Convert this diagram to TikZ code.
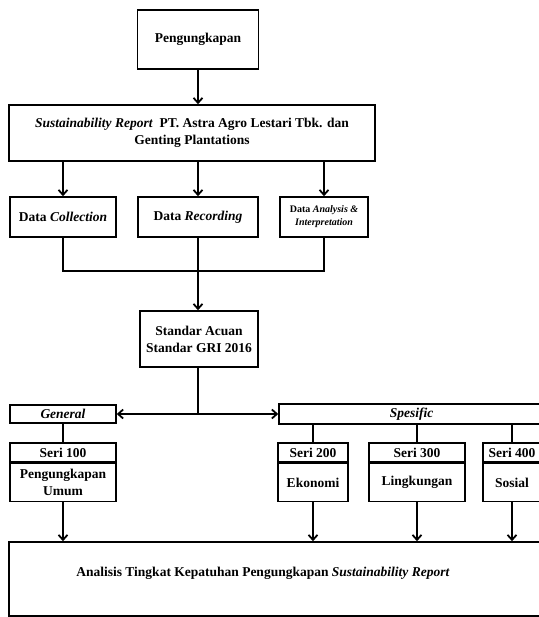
\documentclass[tikz,border=0pt]{standalone}
\usepackage{fontspec}
\setmainfont{Liberation Serif}
\usetikzlibrary{arrows.meta}

\begin{document}
\begin{tikzpicture}[x=1pt,y=-1pt,>={Straight Barb[length=5pt,width=9pt]},
	box/.style={draw,line width=1.6pt,inner sep=1pt,align=center,font=\fontsize{13.5}{17}\selectfont\bfseries},
	link/.style={line width=1.8pt},
	pics/seri/.style n args={3}{code={
			\node[box,minimum width=#1,minimum height=19pt] (-head) at (0,0) {#2};
			\node[box,minimum width=#1,minimum height=38pt,anchor=north] (-body) at (-head.south) {#3};
	}}]
	\useasboundingbox (0,0) rectangle (538,617);
	% upper part
	\node[box,minimum width=121pt,minimum height=59pt] (peng) at (198,39.5) {Pengungkapan};
	\node[box,minimum width=366pt,minimum height=56pt] (sr) at (192,133) {\textit{Sustainability Report}\ \ PT. Astra Agro Lestari Tbk. dan\\Genting Plantations};
	\node[box,minimum width=106pt,minimum height=40pt] (dc) at (63,217) {Data \textit{Collection}};
	\node[box,minimum width=120pt,minimum height=40pt] (dr) at (198,217) {Data \textit{Recording}};
	\node[box,minimum width=88pt,minimum height=40pt,font=\fontsize{10}{13}\selectfont\bfseries] (da) at (324,217) {Data \textit{Analysis \&}\\\textit{Interpretation}};
	\coordinate (j) at (198,271);
	\node[box,minimum width=118pt,minimum height=56pt] (std) at (199,339) {Standar Acuan\\Standar GRI 2016};
	\draw[link,->] (peng.south) -- (peng.south |- sr.north);
	\draw[link,->] (dc.north |- sr.south) -- (dc.north);
	\draw[link,->] (dr.north |- sr.south) -- (dr.north);
	\draw[link,->] (da.north |- sr.south) -- (da.north);
	\draw[link] (dc.south) -- (dc.south |- j) -- (da.south |- j) -- (da.south);
	\draw[link] (dr.south) -- (j);
	\draw[link,->] (j) -- (j |- std.north);
	% lower part
	\node[box,minimum width=106pt,minimum height=18pt,font=\fontsize{13.5}{17}\selectfont\bfseries\itshape] (gen) at (63,414) {General};
	\node[box,minimum width=265pt,minimum height=20pt,font=\fontsize{13.5}{17}\selectfont\bfseries\itshape] (spe) at (411.5,414) {Spesific};
	\draw[link] (j |- std.south) -- (j |- gen.east);
	\draw[link,<->] (gen.east) -- (spe.west);
	\pic (s100) at (63,452.5) {seri={106pt}{Seri 100}{Pengungkapan\\Umum}};
	\pic (s200) at (313,452.5) {seri={70pt}{Seri 200}{Ekonomi}};
	\pic (s300) at (417,452.5) {seri={96pt}{Seri 300}{Lingkungan}};
	\pic (s400) at (512,452.5) {seri={58pt}{Seri 400}{Sosial}};
	\draw[link] (gen.south -| s100-head.north) -- (s100-head.north);
	\foreach \s in {s200,s300,s400}
	\draw[link] (spe.south -| \s-head.north) -- (\s-head.north);
	\node[box,minimum width=536pt,minimum height=74pt] (anal) at (277,579) {};
	\node[font=\fontsize{13.5}{17}\selectfont\bfseries] (analt) at (263,573) {Analisis Tingkat Kepatuhan Pengungkapan \textit{Sustainability Report}};
	\foreach \s in {s100,s200,s300,s400}
	\draw[link,->] (\s-body.south) -- (\s-body.south |- anal.north);
\end{tikzpicture}
\end{document}
